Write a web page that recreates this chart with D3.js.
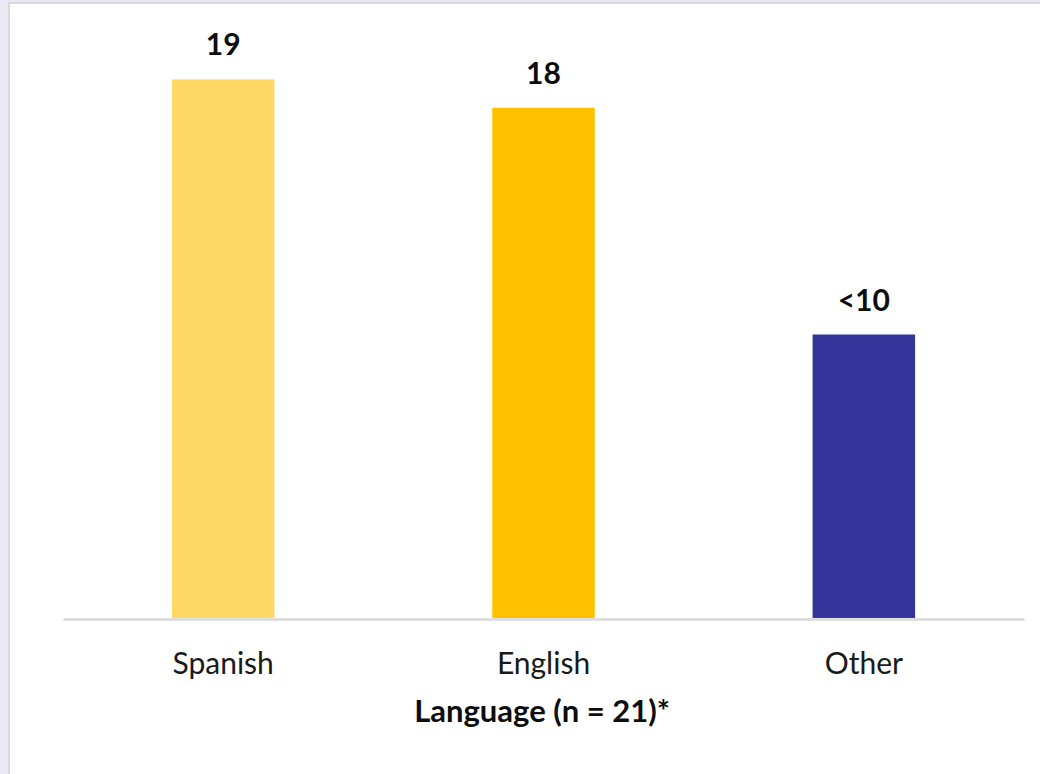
<!DOCTYPE html>
<html>
<head>
<meta charset="utf-8">
<script src="https://cdn.jsdelivr.net/npm/d3@7"></script>
<style>
  html, body { margin: 0; padding: 0; background: #fff; }
  svg { display: block; }
</style>
</head>
<body>
<svg id="chart" width="1040" height="774"></svg>
<script>
const categories = ["Spanish", "English", "Other"];
const values = [19, 18, 10];
const valueLabels = ["19", "18", "<10"];
const colors = ["#FED966", "#FFC000", "#35349A"];
const axisTitle = "Language (n = 21)*";

const W = 1040, H = 774;
const svg = d3.select("#chart");

// frame
svg.append("rect").attr("x", 0).attr("y", 0).attr("width", W).attr("height", H).attr("fill", "#EBE7F4");
svg.append("rect").attr("x", 8).attr("y", 2).attr("width", W).attr("height", H).attr("fill", "#D9D9D9");
svg.append("rect").attr("x", 10).attr("y", 4).attr("width", W).attr("height", H).attr("fill", "#FFFFFF");

const left = 63, right = 1024, base = 618;
const x = d3.scaleBand().domain(categories).range([left, right]).paddingInner(0.68).paddingOuter(0.34);
const y = d3.scaleLinear().domain([0, 20]).range([base, 51]);

const font = "Lato, 'Open Sans', sans-serif";

svg.append("g").selectAll("rect").data(categories).join("rect")
  .attr("x", d => x(d))
  .attr("y", (d, i) => y(values[i]))
  .attr("width", x.bandwidth())
  .attr("height", (d, i) => y(0) - y(values[i]))
  .attr("fill", (d, i) => colors[i]);

svg.append("g").selectAll("text").data(categories).join("text")
  .attr("x", d => x(d) + x.bandwidth() / 2)
  .attr("y", (d, i) => y(values[i]) - 24)
  .attr("text-anchor", "middle")
  .attr("font-family", font)
  .attr("font-weight", "bold")
  .attr("font-size", 30)
  .attr("fill", "#0d0d0d")
  .text((d, i) => valueLabels[i]);

// axis
const xAxis = d3.axisBottom(x).tickSize(0).tickPadding(0);
const gx = svg.append("g").attr("transform", `translate(0,${base + 1})`).call(xAxis);
gx.select(".domain").attr("stroke", "#D9D9D9").attr("stroke-width", 2.5);
gx.selectAll(".tick text")
  .attr("y", 55)
  .attr("dy", 0)
  .attr("font-family", font)
  .attr("font-size", 30)
  .attr("fill", "#1a1a1a");

svg.append("text")
  .attr("x", 542)
  .attr("y", 722)
  .attr("text-anchor", "middle")
  .attr("font-family", font)
  .attr("font-weight", "bold")
  .attr("font-size", 31)
  .attr("fill", "#0d0d0d")
  .text(axisTitle);
</script>
</body>
</html>
